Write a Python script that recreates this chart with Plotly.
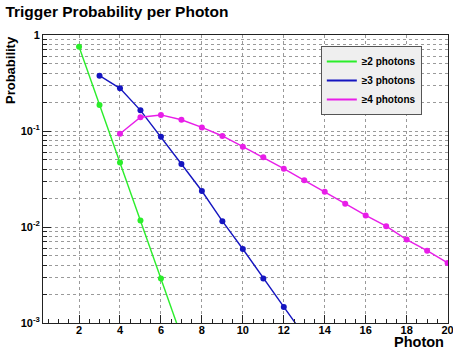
import plotly.graph_objects as go

# Data
x_ge2 = [2, 3, 4, 5, 6, 7]
y_ge2 = [0.755, 0.187, 0.047, 0.0117, 0.0029, 0.00072]

x_ge3 = [3, 4, 5, 6, 7, 8, 9, 10, 11, 12, 13]
y_ge3 = [0.377, 0.278, 0.164, 0.0873, 0.0453, 0.0237, 0.0115, 0.0059, 0.0029, 0.00147, 0.00074]

x_ge4 = [4, 5, 6, 7, 8, 9, 10, 11, 12, 13, 14, 15, 16, 17, 18, 19, 20]
y_ge4 = [0.0937, 0.139, 0.147, 0.131, 0.109, 0.0887, 0.0687, 0.0532, 0.0405, 0.0306,
         0.0233, 0.0175, 0.0132, 0.0102, 0.0074, 0.00566, 0.00422]

series_names = ["≥2 photons", "≥3 photons", "≥4 photons"]
series_colors = ["#2aee2a", "#1515c0", "#e81ee8"]

x_major = [2, 4, 6, 8, 10, 12, 14, 16, 18, 20]
x_minor = [v / 2 for v in range(1, 40) if v % 4 != 0]
y_major = [0.001, 0.01, 0.1, 1]
y_major_text = ["10<sup>-3</sup>", "10<sup>-2</sup>", "10<sup>-1</sup>", "1"]
y_minor = [m * d for d in (0.001, 0.01, 0.1) for m in range(2, 10)]

FONT = "Liberation Sans, Arial, Helvetica, sans-serif"

fig = go.Figure()
for xs, ys, name, col in zip((x_ge2, x_ge3, x_ge4), (y_ge2, y_ge3, y_ge4), series_names, series_colors):
    fig.add_trace(go.Scatter(
        x=xs, y=ys, name=name, mode="lines+markers", showlegend=False,
        line=dict(color=col, width=1.4),
        marker=dict(color=col, size=6, symbol="circle"),
        cliponaxis=True,
    ))
# legend entries (line only, as in the reference)
for name, col in zip(series_names, series_colors):
    fig.add_trace(go.Scatter(x=[None], y=[None], name=name, mode="lines",
                             line=dict(color=col, width=2), showlegend=True))

fig.update_layout(
    width=453, height=352,
    margin=dict(l=43, r=5, t=35, b=29, autoexpand=False),
    paper_bgcolor="white", plot_bgcolor="white",
    font=dict(family=FONT, size=11, color="black"),
    title=dict(text="<b>Trigger Probability per Photon</b>", x=0.012, xanchor="left",
               y=0.966, yanchor="middle", font=dict(size=15.5, family=FONT)),
    showlegend=True,
    legend=dict(x=0.686, y=0.962, xanchor="left", yanchor="top",
                bgcolor="#efefef", bordercolor="#555555", borderwidth=1,
                font=dict(size=10, family=FONT, weight="bold"),
                itemwidth=30, tracegroupgap=0, entrywidth=92, entrywidthmode="pixels"),
)

fig.update_xaxes(
    range=[0.24, 20.02], showline=True, linecolor="#222", linewidth=1, mirror=True,
    automargin=False,
    tickmode="array", tickvals=x_major, ticktext=[f"<b>{v}</b>" for v in x_major],
    ticks="inside", ticklen=8, tickcolor="#222", ticklabeloverflow="allow",
    ticklabelstandoff=-3,
    showgrid=True, gridcolor="#9a9a9a", griddash="dot", gridwidth=1,
    zeroline=False, tickfont=dict(size=11),
    minor=dict(tickmode="array", tickvals=x_minor, ticks="inside", ticklen=4,
               tickcolor="#222", showgrid=False),
)
fig.update_yaxes(
    type="log", range=[-3, 0], showline=True, linecolor="#222", linewidth=1, mirror=True,
    automargin=False,
    tickmode="array", tickvals=y_major, ticktext=[f"<b>{t}</b>" for t in y_major_text],
    ticks="inside", ticklen=8, tickcolor="#222",
    showgrid=True, gridcolor="#9a9a9a", griddash="dot", gridwidth=1,
    zeroline=False, tickfont=dict(size=11),
    minor=dict(tickmode="array", tickvals=y_minor, ticks="inside", ticklen=4,
               tickcolor="#222", showgrid=True, gridcolor="#9a9a9a", griddash="dot"),
)

fig.add_annotation(text="<b>Probability</b>", textangle=-90, xref="paper", yref="paper",
                   x=0, y=1, xanchor="center", yanchor="top", xshift=-33, yshift=1,
                   showarrow=False, font=dict(size=13, family=FONT))
fig.add_annotation(text="<b>Photon</b>", xref="paper", yref="paper",
                   x=1, y=0, xanchor="right", yanchor="bottom", xshift=-2, yshift=-29,
                   showarrow=False, font=dict(size=14.5, family=FONT))

fig.write_html("out.html")
